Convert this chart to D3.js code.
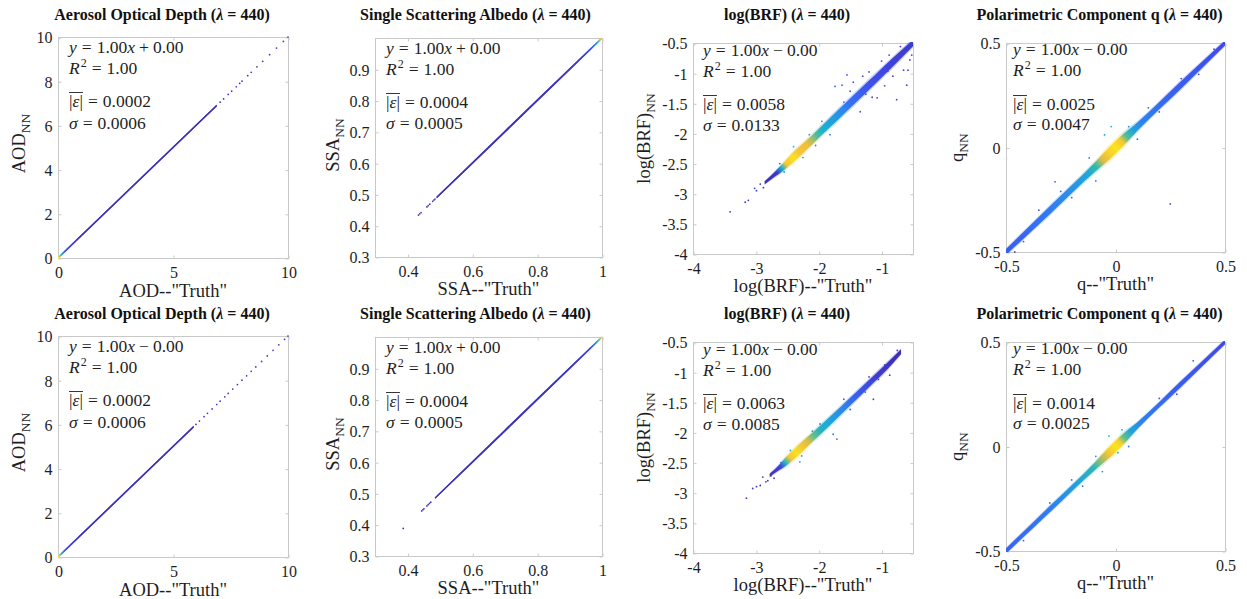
<!DOCTYPE html>
<html><head><meta charset="utf-8">
<script src="https://cdn.jsdelivr.net/npm/d3@7"></script>
<style>
body{margin:0;background:#fff;}
svg{display:block;font-family:"Liberation Serif","Times New Roman",serif;}
svg text{font-family:"Liberation Serif","Times New Roman",serif;}
</style></head><body>
<svg id="c" width="1247" height="599"></svg>
<script>
// ================= DATA =================
const titles = ["Aerosol Optical Depth", "Single Scattering Albedo", "log(BRF)", "Polarimetric Component q"];
const wavelength = 440;
const varNames = ["AOD", "SSA", "log(BRF)", "q"];
const xDomains = [[0, 10], [0.3, 1], [-4, -0.5], [-0.5, 0.5]];
const yDomains = [[0, 10], [0.3, 1], [-4, -0.5], [-0.5, 0.5]];
const xTicks = [[0, 5, 10], [0.4, 0.6, 0.8, 1], [-4, -3, -2, -1], [-0.5, 0, 0.5]];
const yTicks = [[0, 2, 4, 6, 8, 10], [0.3, 0.4, 0.5, 0.6, 0.7, 0.8, 0.9], [-4, -3.5, -3, -2.5, -2, -1.5, -1, -0.5], [-0.5, 0, 0.5]];

// fit statistics [top row, bottom row]
const fitSlope = [[1.00, 1.00, 1.00, 1.00], [1.00, 1.00, 1.00, 1.00]];
const fitSign = [["+", "+", "\u2212", "\u2212"], ["\u2212", "+", "\u2212", "\u2212"]];
const fitIntercept = [[0.00, 0.00, 0.00, 0.00], [0.00, 0.00, 0.00, 0.00]];
const rSquared = [[1.00, 1.00, 1.00, 1.00], [1.00, 1.00, 1.00, 1.00]];
const meanAbsErr = [[0.0002, 0.0004, 0.0058, 0.0025], [0.0002, 0.0004, 0.0063, 0.0014]];
const stdErr = [[0.0006, 0.0005, 0.0133, 0.0047], [0.0006, 0.0005, 0.0085, 0.0025]];

// dense point bands: [truth, NN centre, NN half-spread]
const bandAodTop = [[0, 0, 0.05], [6.9, 6.9, 0.05]];
const bandAodBot = [[0, 0, 0.05], [5.9, 5.9, 0.05]];
const bandSsaTop = [[0.49, 0.49, 0.003], [0.7, 0.7, 0.0045], [0.9, 0.9, 0.004], [1, 1, 0.003]];
const bandSsaBot = [[0.485, 0.485, 0.003], [0.7, 0.7, 0.0045], [0.9, 0.9, 0.004], [1, 1, 0.003]];
const bandBrfTop = [[-2.86, -2.82, 0.025], [-2.7, -2.68, 0.04], [-2.55, -2.54, 0.065], [-2.4, -2.39, 0.085], [-2.2, -2.2, 0.08], [-2.0, -2.0, 0.075], [-1.7, -1.7, 0.08], [-1.4, -1.4, 0.08], [-1.1, -1.1, 0.075], [-0.8, -0.8, 0.07], [-0.5, -0.5, 0.055]];
const bandBrfBot = [[-2.78, -2.71, 0.025], [-2.65, -2.6, 0.04], [-2.5, -2.46, 0.075], [-2.35, -2.32, 0.085], [-2.1, -2.08, 0.075], [-1.8, -1.79, 0.07], [-1.5, -1.49, 0.065], [-1.2, -1.19, 0.06], [-0.9, -0.89, 0.055], [-0.69, -0.66, 0.04]];
const bandQTop = [[-0.5, -0.5, 0.014], [-0.3, -0.3, 0.019], [-0.1, -0.1, 0.022], [-0.03, -0.03, 0.03], [0.02, 0.02, 0.03], [0.1, 0.1, 0.02], [0.3, 0.3, 0.018], [0.5, 0.5, 0.012]];
const bandQBot = [[-0.5, -0.5, 0.012], [-0.3, -0.3, 0.015], [-0.1, -0.1, 0.018], [-0.02, -0.02, 0.027], [0.02, 0.02, 0.027], [0.1, 0.1, 0.016], [0.3, 0.3, 0.014], [0.5, 0.5, 0.011]];

// relative point density along each band: [truth, density 0..1]
const densAodTop = [[0, 1], [0.06, 0.85], [0.15, 0.45], [0.35, 0.12], [1, 0.03], [6.9, 0.02]];
const densAodBot = [[0, 1], [0.06, 0.85], [0.15, 0.45], [0.35, 0.12], [1, 0.03], [5.9, 0.02]];
const densSsaTop = [[0.49, 0.02], [0.9, 0.04], [0.96, 0.1], [0.985, 0.4], [0.997, 0.85], [1, 1]];
const densSsaBot = [[0.485, 0.02], [0.9, 0.04], [0.96, 0.1], [0.985, 0.4], [0.997, 0.85], [1, 1]];
const densBrfTop = [[-2.86, 0.02], [-2.68, 0.05], [-2.6, 0.45], [-2.53, 0.88], [-2.42, 0.95], [-2.32, 0.87], [-2.2, 0.84], [-2.12, 0.72], [-2.04, 0.58], [-1.95, 0.47], [-1.8, 0.4], [-1.65, 0.33], [-1.5, 0.24], [-1.2, 0.15], [-0.9, 0.1], [-0.6, 0.07], [-0.5, 0.07]];
const densBrfBot = [[-2.78, 0.02], [-2.62, 0.1], [-2.55, 0.5], [-2.47, 0.88], [-2.37, 0.95], [-2.27, 0.87], [-2.18, 0.78], [-2.1, 0.62], [-2.0, 0.5], [-1.85, 0.42], [-1.65, 0.32], [-1.45, 0.2], [-1.1, 0.08], [-0.85, 0.03], [-0.69, 0.02]];
const densQTop = [[-0.5, 0.18], [-0.35, 0.25], [-0.22, 0.33], [-0.13, 0.42], [-0.09, 0.55], [-0.06, 0.8], [-0.03, 0.9], [0.0, 0.96], [0.03, 0.88], [0.05, 0.6], [0.08, 0.42], [0.12, 0.3], [0.25, 0.2], [0.5, 0.13]];
const densQBot = [[-0.5, 0.2], [-0.3, 0.28], [-0.18, 0.4], [-0.1, 0.52], [-0.06, 0.72], [-0.03, 0.88], [0, 0.96], [0.02, 0.9], [0.04, 0.62], [0.07, 0.42], [0.12, 0.3], [0.25, 0.2], [0.5, 0.12]];

// sparse individual points: [truth, NN]
const sparseAodTop = [[7.05, 7.05], [7.2, 7.2], [7.4, 7.4], [7.55, 7.55], [7.75, 7.75], [7.9, 7.9], [8.0, 8.0], [8.25, 8.25], [8.4, 8.4], [8.65, 8.65], [8.9, 8.9], [9.2, 9.2], [9.5, 9.5], [9.8, 9.8], [10, 10]];
const sparseAodBot = [[6.0, 6.0], [6.15, 6.15], [6.35, 6.35], [6.5, 6.5], [6.7, 6.7], [6.9, 6.9], [7.05, 7.05], [7.25, 7.25], [7.4, 7.4], [7.6, 7.6], [7.8, 7.8], [8.0, 8.0], [8.2, 8.2], [8.4, 8.4], [8.6, 8.6], [8.85, 8.85], [9.1, 9.1], [9.35, 9.35], [9.6, 9.6], [9.85, 9.85], [10, 10]];
const sparseSsaTop = [[0.434, 0.434], [0.438, 0.438], [0.442, 0.442], [0.46, 0.46], [0.464, 0.464], [0.469, 0.469], [0.478, 0.478], [0.482, 0.482], [0.485, 0.485]];
const sparseSsaBot = [[0.444, 0.444], [0.448, 0.448], [0.451, 0.451], [0.46, 0.46], [0.464, 0.464], [0.468, 0.468], [0.472, 0.472], [0.387, 0.388]];
const sparseBrfTop = [[-3.41, -3.30], [-3.17, -3.14], [-3.12, -3.11], [-3.02, -2.91], [-2.99, -2.95], [-2.88, -2.90], [-2.93, -2.84], [-2.80, -2.77], [-2.62, -2.50], [-2.55, -2.64], [-2.40, -2.22], [-2.25, -2.40], [-2.15, -2.02], [-2.05, -2.20], [-1.95, -1.80], [-1.82, -2.02], [-1.74, -1.22], [-1.63, -1.20], [-1.55, -1.03], [-1.50, -1.30], [-1.45, -1.15], [-1.34, -1.64], [-1.30, -1.05], [-1.20, -0.98], [-1.15, -1.40], [-1.07, -1.41], [-1.00, -0.80], [-0.95, -1.21], [-0.88, -0.70], [-0.82, -1.05], [-0.76, -1.44], [-0.70, -0.56], [-0.65, -0.95], [-0.60, -1.20], [-0.58, -0.95], [-0.55, -0.78], [-0.52, -0.70], [-1.60, -1.48], [-1.25, -1.35], [-0.90, -0.97]];
const sparseBrfBot = [[-3.15, -3.09], [-3.05, -2.93], [-2.99, -2.90], [-2.93, -2.88], [-2.89, -2.74], [-2.84, -2.82], [-2.81, -2.80], [-2.76, -2.72], [-2.71, -2.76], [-2.68, -2.62], [-2.60, -2.50], [-2.30, -2.49], [-2.27, -2.39], [-2.45, -2.30], [-2.10, -1.98], [-1.98, -1.86], [-1.77, -2.03], [-1.71, -2.11], [-1.60, -1.45], [-1.50, -1.62], [-1.26, -1.33], [-1.13, -1.45], [-1.20, -1.08], [-0.95, -0.88], [-0.87, -1.05], [-0.75, -0.64], [-0.71, -0.67], [-1.05, -1.12]];
const sparseQTop = [[0.25, -0.27], [-0.276, -0.164], [-0.02, 0.10], [-0.05, 0.06], [0.06, 0.10], [-0.12, -0.05], [-0.09, -0.16], [0.10, 0.04], [-0.35, -0.30], [-0.42, -0.45], [0.30, 0.33], [0.38, 0.35], [-0.20, -0.24], [0.15, 0.19], [-0.25, -0.21], [0.20, 0.17], [-0.46, -0.50], [0.45, 0.47]];
const sparseQBot = [[0.355, 0.41], [0.011, -0.03], [-0.09, -0.047], [-0.03, 0.05], [0.03, 0.08], [-0.06, -0.12], [0.06, 0.0], [-0.15, -0.19], [-0.30, -0.27], [0.20, 0.23], [0.28, 0.25], [-0.42, -0.45], [-0.20, -0.16]];

const bands = [[bandAodTop, bandSsaTop, bandBrfTop, bandQTop], [bandAodBot, bandSsaBot, bandBrfBot, bandQBot]];
const dens = [[densAodTop, densSsaTop, densBrfTop, densQTop], [densAodBot, densSsaBot, densBrfBot, densQBot]];
const sparse = [[sparseAodTop, sparseSsaTop, sparseBrfTop, sparseQTop], [sparseAodBot, sparseSsaBot, sparseBrfBot, sparseQBot]];

// ================= LAYOUT / STYLE =================
const frames = [{l: 58, r: 288, t: 37, b: 258}, {l: 375, r: 602, t: 38, b: 257}, {l: 693, r: 913, t: 43, b: 254}, {l: 1006, r: 1225, t: 43, b: 252}];
const rowOffset = [0, 299];
const titleBase = [20, 319];
const titleShift = [-11, -13, -16, -16];
const annDx = [11, 11, 10, 7];
const annBase = [[16, 37, 70, 92], [16, 37, 70, 91], [13, 34, 67, 88], [12, 33, 67, 87]];
const yLabGap = [33, 36, 43, 43];
const yLabShift = [-4, -2.5, -10, 0];
const xLabGap = [39, 38, 38, 38];
const cmap = d3.scaleLinear()
  .domain([0, 0.12, 0.25, 0.35, 0.45, 0.55, 0.65, 0.75, 0.85, 0.93, 1])
  .range(["#3b2bab", "#4048e8", "#3472f5", "#2a92e6", "#1aaed2", "#2ebcae", "#7cc178", "#c2bd55", "#f3bf39", "#fbd82a", "#f8f514"])
  .interpolate(d3.interpolateRgb).clamp(true);
const frameColor = "#c9c9c9";
const textColor = "#1e1e1e";

const svg = d3.select("#c");
svg.append("rect").attr("width", 1247).attr("height", 599).attr("fill", "#fff");
const defs = svg.append("defs");

function panel(r, c) {
  const f = frames[c], oy = rowOffset[r];
  const g = svg.append("g");
  const x = d3.scaleLinear().domain(xDomains[c]).range([f.l, f.r]);
  const y = d3.scaleLinear().domain(yDomains[c]).range([f.b + oy, f.t + oy]);
  const top = f.t + oy, bot = f.b + oy;

  const cid = `clip${r}${c}`;
  defs.append("clipPath").attr("id", cid).append("rect")
    .attr("x", f.l).attr("y", top - 1).attr("width", f.r - f.l + 1).attr("height", bot - top + 2);

  // frame
  g.append("rect").attr("x", f.l + 0.5).attr("y", top + 0.5).attr("width", f.r - f.l).attr("height", bot - top)
    .attr("fill", "none").attr("stroke", frameColor);

  // axes (ticks inward on all 4 sides)
  const fmt = d => String(d);
  const ax = [
    [d3.axisBottom(x).tickValues(xTicks[c]).tickFormat(fmt), `translate(0.5,${bot + 0.5})`],
    [d3.axisTop(x).tickValues(xTicks[c]).tickFormat(""), `translate(0.5,${top + 0.5})`],
    [d3.axisLeft(y).tickValues(yTicks[c]).tickFormat(fmt), `translate(${f.l + 0.5},0.5)`],
    [d3.axisRight(y).tickValues(yTicks[c]).tickFormat(""), `translate(${f.r + 0.5},0.5)`]
  ];
  ax.forEach(([a, tr], i) => {
    const s = g.append("g").attr("transform", tr).call(a.tickSize(-3).tickPadding(6));
    s.attr("font-family", null).attr("font-size", null);
    s.select(".domain").remove();
    s.selectAll(".tick line").attr("stroke", frameColor);
    s.selectAll("text").attr("fill", textColor).style("font-size", "16px");
    if (i === 0) s.selectAll("text").attr("dy", null).attr("y", 19);
    if (i === 2) s.selectAll("text").attr("x", -6).attr("dy", "0.34em");
  });

  // data
  const band = bands[r][c], dd = dens[r][c];
  const bx0 = band[0][0], bx1 = band[band.length - 1][0];
  const gid = `grad${r}${c}`;
  const grad = defs.append("linearGradient").attr("id", gid).attr("gradientUnits", "userSpaceOnUse")
    .attr("x1", x(band[0][0])).attr("y1", y(band[0][1]))
    .attr("x2", x(band[band.length - 1][0])).attr("y2", y(band[band.length - 1][1]));
  dd.forEach(([dx, dv]) => grad.append("stop")
    .attr("offset", Math.max(0, Math.min(1, (dx - bx0) / (bx1 - bx0))))
    .attr("stop-color", cmap(dv)));
  const densAt = d3.scaleLinear().domain(dd.map(d => d[0])).range(dd.map(d => d[1])).clamp(true);

  const pg = g.append("g").attr("clip-path", `url(#${cid})`);
  const fuzzy = c >= 2;
  if (fuzzy) {
    const halo = d3.area().x(d => x(d[0])).y0(d => y(d[1] - 1.4 * d[2])).y1(d => y(d[1] + 1.4 * d[2])).curve(d3.curveMonotoneX);
    pg.append("path").datum(band).attr("d", halo).attr("fill", `url(#${gid})`).attr("opacity", 0.28);
  }
  pg.selectAll("circle.sp").data(sparse[r][c]).join("circle").attr("class", "sp")
    .attr("cx", d => x(d[0])).attr("cy", d => y(d[1])).attr("r", fuzzy ? 0.9 : 0.85)
    .attr("fill", d => fuzzy ? cmap(densAt(d[0]) * 0.45 + 0.05) : cmap(0.03));
  const core = d3.area().x(d => x(d[0])).y0(d => y(d[1] - d[2])).y1(d => y(d[1] + d[2])).curve(d3.curveMonotoneX);
  pg.append("path").datum(band).attr("d", core).attr("fill", `url(#${gid})`);
  if (!fuzzy) {
    const ln = d3.line().x(d => x(d[0])).y(d => y(d[1]));
    pg.append("path").datum(band).attr("d", ln).attr("fill", "none")
      .attr("stroke", `url(#${gid})`).attr("stroke-width", 1.3);
  }

  // title
  const tt = g.append("text").attr("x", (f.l + f.r) / 2 + titleShift[c]).attr("y", titleBase[r])
    .attr("text-anchor", "middle").attr("fill", "#111").style("font-weight", "bold").style("font-size", "16px");
  tt.append("tspan").text(titles[c] + " (");
  tt.append("tspan").style("font-style", "italic").text("\u03bb");
  tt.append("tspan").text(" = " + wavelength + ")");

  // x label
  g.append("text").attr("x", (f.l + f.r) / 2).attr("y", bot + xLabGap[c]).attr("text-anchor", "middle")
    .attr("fill", textColor).style("font-size", "18.5px").text(varNames[c] + '--"Truth"');

  // y label
  const yl = g.append("text")
    .attr("transform", `translate(${f.l - yLabGap[c]},${(top + bot) / 2 + yLabShift[c]}) rotate(-90)`)
    .attr("text-anchor", "middle").attr("fill", textColor).style("font-size", "18.5px");
  yl.append("tspan").text(varNames[c]);
  yl.append("tspan").attr("dy", 5).style("font-size", "13.5px").text("NN");

  // annotations
  const ax0 = f.l + annDx[c];
  const ab = annBase[c].map(v => v + top);
  const fs = "17.5px";
  const sp = 5;
  const f2 = d3.format(".2f"), f4 = d3.format(".4f");
  let t = g.append("text").attr("x", ax0).attr("y", ab[0]).attr("fill", textColor).style("font-size", fs);
  t.append("tspan").style("font-style", "italic").text("y");
  t.append("tspan").attr("dx", sp).text("=");
  t.append("tspan").attr("dx", sp).text(f2(fitSlope[r][c]));
  t.append("tspan").style("font-style", "italic").text("x");
  t.append("tspan").attr("dx", sp - 1).text(fitSign[r][c]);
  t.append("tspan").attr("dx", sp - 1).text(f2(Math.abs(fitIntercept[r][c])));

  t = g.append("text").attr("x", ax0).attr("y", ab[1]).attr("fill", textColor).style("font-size", fs);
  t.append("tspan").style("font-style", "italic").text("R");
  t.append("tspan").attr("dy", -7).attr("dx", 1).style("font-size", "12px").text("2");
  t.append("tspan").attr("dy", 7).attr("dx", sp).text("=");
  t.append("tspan").attr("dx", sp).text(f2(rSquared[r][c]));

  const e1 = g.append("text").attr("x", ax0).attr("y", ab[2]).attr("fill", textColor).style("font-size", fs);
  e1.append("tspan").text("|");
  e1.append("tspan").style("font-style", "italic").text("\u03b5");
  e1.append("tspan").text("|");
  const ew = e1.node().getComputedTextLength();
  g.append("line").attr("x1", ax0).attr("x2", ax0 + ew).attr("y1", ab[2] - 14.5).attr("y2", ab[2] - 14.5)
    .attr("stroke", textColor).attr("stroke-width", 0.9);
  t = g.append("text").attr("x", ax0 + ew).attr("y", ab[2]).attr("fill", textColor).style("font-size", fs);
  t.append("tspan").attr("dx", sp).text("=");
  t.append("tspan").attr("dx", sp).text(f4(meanAbsErr[r][c]));

  t = g.append("text").attr("x", ax0).attr("y", ab[3]).attr("fill", textColor).style("font-size", fs);
  t.append("tspan").style("font-style", "italic").text("\u03c3");
  t.append("tspan").attr("dx", sp).text("=");
  t.append("tspan").attr("dx", sp).text(f4(stdErr[r][c]));
}

for (let r = 0; r < 2; r++) for (let c = 0; c < 4; c++) panel(r, c);
</script>
</body></html>
